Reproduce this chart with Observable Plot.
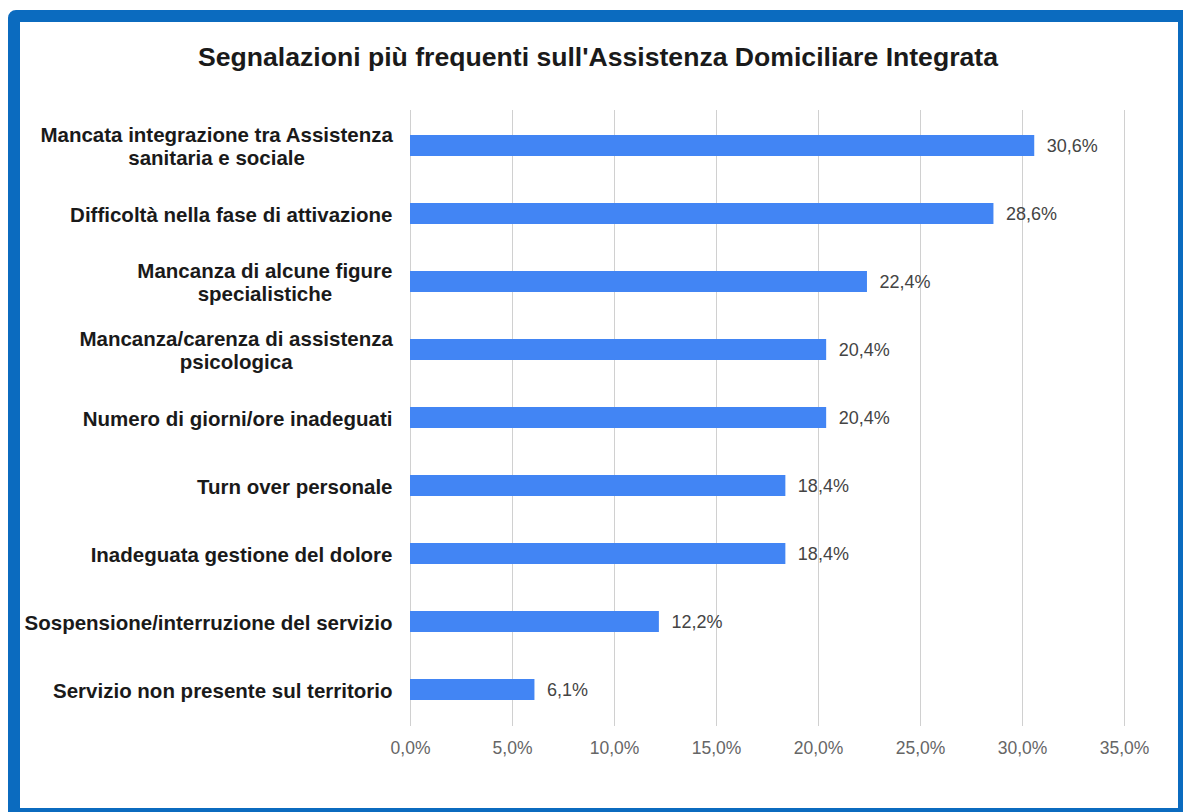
<!DOCTYPE html>
<html>
<head>
<meta charset="utf-8">
<script src="https://cdn.jsdelivr.net/npm/d3@7"></script>
<script src="https://cdn.jsdelivr.net/npm/@observablehq/plot@0.6"></script>
<style>
  html, body { margin: 0; padding: 0; background: #ffffff; overflow: hidden; }
  body { width: 1183px; height: 812px; position: relative; font-family: "Liberation Sans", Arial, sans-serif; }
  #frame { position: absolute; left: 8px; top: 10px; width: 1182px; height: 810px; box-sizing: border-box;
           border: 12px solid #0b6bbf; border-radius: 8px; background: #fff; }
  #title { position: absolute; left: 0; width: 1196px; top: 41px; text-align: center; font-weight: bold;
           font-size: 26.6px; color: #1a1a1a; line-height: 32px; }
  #chart { position: absolute; left: 0; top: 90px; }
</style>
</head>
<body>
<div id="frame"></div>
<div id="title">Segnalazioni più frequenti sull'Assistenza Domiciliare Integrata</div>
<div id="chart"></div>
<script>
const categories = [
  "Mancata integrazione tra Assistenza\nsanitaria e sociale",
  "Difficoltà nella fase di attivazione",
  "Mancanza di alcune figure\nspecialistiche",
  "Mancanza/carenza di assistenza\npsicologica",
  "Numero di giorni/ore inadeguati",
  "Turn over personale",
  "Inadeguata gestione del dolore",
  "Sospensione/interruzione del servizio",
  "Servizio non presente sul territorio"
];
const values = [30.6, 28.6, 22.4, 20.4, 20.4, 18.4, 18.4, 12.2, 6.1];
const xTicks = [0, 5, 10, 15, 20, 25, 30, 35];

const data = categories.map((c, i) => ({category: c, value: values[i]}));
const fmt = v => v.toFixed(1).replace(".", ",") + "%";

const chart = Plot.plot({
  width: 1183,
  height: 700,
  marginLeft: 410,
  marginRight: 59,
  marginTop: 20,
  marginBottom: 64,
  style: {fontFamily: "'Liberation Sans', Arial, sans-serif", background: "transparent"},
  x: {domain: [0, 35], ticks: xTicks},
  y: {domain: categories, paddingInner: 0.69, paddingOuter: 0.345},
  marks: [
    Plot.gridX(xTicks, {stroke: "#d0d0d0", strokeOpacity: 1, strokeWidth: 1}),
    Plot.barX(data, {x: "value", y: "category", fill: "#4285f4"}),
    Plot.text(data, {x: "value", y: "category", text: d => fmt(d.value), dx: 12, textAnchor: "start",
                     fill: "#444444", fontSize: 18}),
    Plot.axisX({ticks: xTicks, tickSize: 0, tickPadding: 15, tickFormat: fmt, fontSize: 17.5,
                color: "#666666", label: null}),
    Plot.axisY({tickSize: 0, tickPadding: 18, fontSize: 20.5, fontWeight: "bold", color: "#1a1a1a",
                lineHeight: 1.15, label: null})
  ]
});
document.getElementById("chart").appendChild(chart);

// center the lines of multi-line category labels on each other (right edge stays put)
chart.querySelectorAll("g[aria-label='y-axis tick label'] text").forEach(t => {
  const spans = t.querySelectorAll("tspan");
  if (spans.length < 2) return;
  const bb = t.getBBox();
  const cx = bb.x + bb.width / 2;
  t.setAttribute("text-anchor", "middle");
  spans.forEach(s => s.setAttribute("x", cx));
});
</script>
</body>
</html>
